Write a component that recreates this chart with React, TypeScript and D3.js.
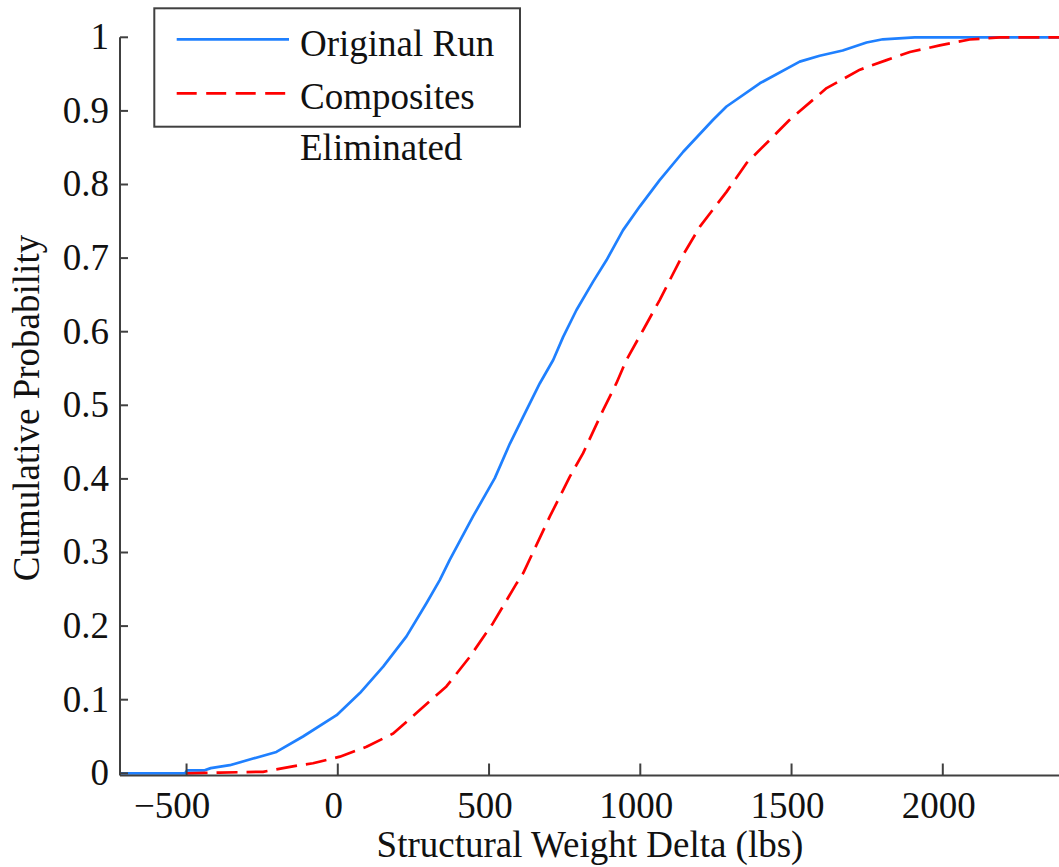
import React from "react";
import * as d3 from "d3";

const originalRunX = [-720, -505, -498, -440, -420, -357, -280, -203, -115, -4, 73, 150, 227, 293, 337, 370, 447, 519, 569, 613, 668, 712, 745, 789, 844, 888, 943, 998, 1064, 1142, 1240, 1285, 1395, 1527, 1593, 1669, 1748, 1802, 1907, 2400];
const originalRunP = [0, 0, 0.004, 0.004, 0.007, 0.011, 0.02, 0.029, 0.05, 0.079, 0.109, 0.145, 0.186, 0.231, 0.2625, 0.29, 0.349, 0.401, 0.448, 0.4845, 0.53, 0.5615, 0.593, 0.6295, 0.668, 0.697, 0.738, 0.77, 0.806, 0.8445, 0.8876, 0.906, 0.9375, 0.967, 0.975, 0.982, 0.993, 0.9973, 1.0, 1.0];

const compositesX = [-500, -390, -247, -126, -82, 7, 95, 183, 271, 359, 436, 513, 591, 613, 701, 767, 811, 877, 921, 954, 1009, 1064, 1131, 1197, 1285, 1351, 1417, 1493, 1616, 1726, 1814, 1891, 1990, 2089, 2188, 2400];
const compositesP = [0, 0.001, 0.002, 0.011, 0.0136, 0.0226, 0.036, 0.054, 0.086, 0.118, 0.158, 0.204, 0.258, 0.272, 0.349, 0.403, 0.435, 0.4935, 0.53, 0.5615, 0.602, 0.643, 0.697, 0.7427, 0.79, 0.829, 0.856, 0.8876, 0.931, 0.956, 0.969, 0.98, 0.989, 0.997, 1.0, 1.0];

const xTicks = [-500, 0, 500, 1000, 1500, 2000];
const yTicks = [0, 0.1, 0.2, 0.3, 0.4, 0.5, 0.6, 0.7, 0.8, 0.9, 1];
const legendLabels = ["Original Run", "Composites", "Eliminated"];

const W = 1059;
const H = 867;
const FONT = "'Liberation Serif', 'Times New Roman', serif";
const FS = 37;
const AXIS = "#404040";
const BLUE = "#1f80ff";
const RED = "#ff0000";

export default function App() {
  const x = d3.scaleLinear().domain([-720, 2400]).range([120, 1063.8]);
  const y = d3.scaleLinear().domain([-0.003, 1]).range([775.5, 37.3]);

  const line = d3
    .line<[number, number]>()
    .x((d) => x(d[0]))
    .y((d) => y(d[1]));

  const blue = originalRunX.map((v, i) => [v, originalRunP[i]] as [number, number]);
  const red = compositesX.map((v, i) => [v, compositesP[i]] as [number, number]);

  const x0 = x.range()[0];
  const yBottom = y.range()[0];
  const yTop = y(1);

  const fmtY = (v: number) => (v === 0 ? "0" : v === 1 ? "1" : d3.format(".1f")(v));

  return (
    <svg
      width={W}
      height={H}
      style={{ position: "absolute", left: 0, top: 0, background: "#fff" }}
      fontFamily={FONT}
    >
      <rect x={0} y={0} width={W} height={H} fill="#fff" />
      <path d={line(blue) || ""} fill="none" stroke={BLUE} strokeWidth={2.7} strokeLinejoin="round" />
      <path
        d={line(red) || ""}
        fill="none"
        stroke={RED}
        strokeWidth={2.7}
        strokeDasharray="21 9"
        strokeLinejoin="round"
      />
      <line x1={x0} x2={x0} y1={yTop} y2={yBottom} stroke={AXIS} strokeWidth={2} />
      <line x1={x0} x2={W + 5} y1={yBottom} y2={yBottom} stroke={AXIS} strokeWidth={2} />
      {yTicks.map((t) => (
        <g key={"y" + t}>
          <line x1={x0} x2={x0 + 8} y1={y(t)} y2={y(t)} stroke={AXIS} strokeWidth={2} />
          <text x={109} y={y(t) + 12} fontSize={FS} textAnchor="end" fill="#111">
            {fmtY(t)}
          </text>
        </g>
      ))}
      {xTicks.map((t) => (
        <g key={"x" + t}>
          <line x1={x(t)} x2={x(t)} y1={yBottom} y2={yBottom - 12} stroke={AXIS} strokeWidth={2} />
          <text x={x(t) - 4 - (t < 0 ? 10.4 : 0)} y={818} fontSize={FS} textAnchor="middle" fill="#111">
            {t < 0 ? "\u2212" + Math.abs(t) : String(t)}
          </text>
        </g>
      ))}
      <text x={590} y={857} fontSize={FS} textAnchor="middle" fill="#111">
        Structural Weight Delta (lbs)
      </text>
      <text transform="translate(39,408) rotate(-90)" fontSize={FS} textAnchor="middle" fill="#111">
        Cumulative Probability
      </text>
      <rect x={154.3} y={8.3} width={365.7} height={118.4} fill="#fff" stroke={AXIS} strokeWidth={2} />
      <line x1={176.7} x2={289} y1={39.3} y2={39.3} stroke={BLUE} strokeWidth={2.7} />
      <line x1={176.7} x2={289} y1={93.3} y2={93.3} stroke={RED} strokeWidth={2.7} strokeDasharray="20 9.5" />
      <text x={300} y={56} fontSize={FS} fill="#111">{legendLabels[0]}</text>
      <text x={300} y={109} fontSize={FS} fill="#111">{legendLabels[1]}</text>
      <text x={300} y={160} fontSize={FS} fill="#111">{legendLabels[2]}</text>
    </svg>
  );
}
